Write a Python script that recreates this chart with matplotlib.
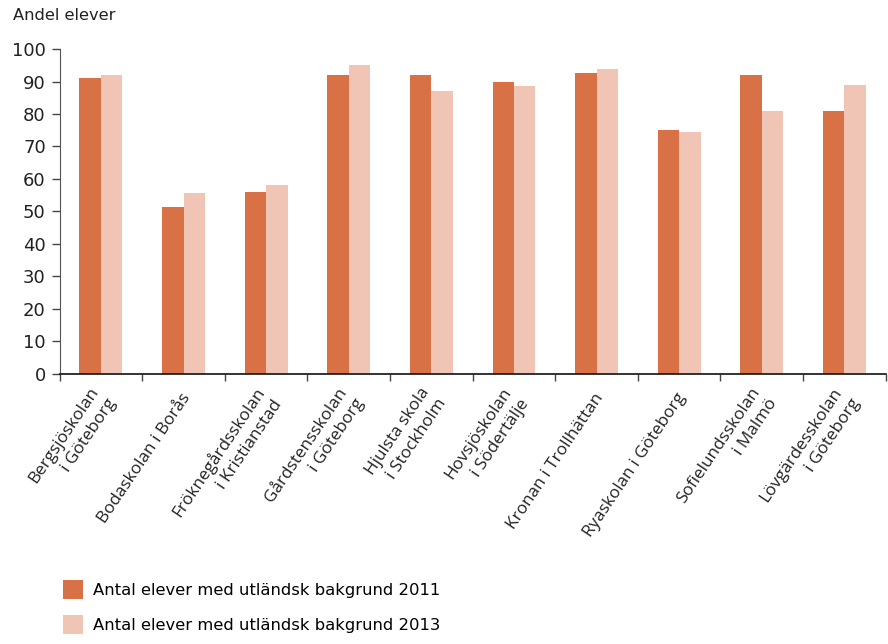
import matplotlib
matplotlib.use("Agg")
import matplotlib.pyplot as plt
from matplotlib.patches import Patch
import numpy as np

# Share of pupils with foreign background per school
schools = [
    "Bergsjöskolan\ni Göteborg",
    "Bodaskolan i Borås",
    "Fröknegårdsskolan\ni Kristianstad",
    "Gårdstensskolan\ni Göteborg",
    "Hjulsta skola\ni Stockholm",
    "Hovsjöskolan\ni Södertälje",
    "Kronan i Trollhättan",
    "Ryaskolan i Göteborg",
    "Sofielundsskolan\ni Malmö",
    "Lövgärdesskolan\ni Göteborg",
]
share_2011 = [91, 51.5, 56, 92, 92, 90, 92.5, 75.2, 92, 81]
share_2013 = [92, 55.8, 58, 95.2, 87, 88.7, 93.7, 74.6, 81, 89]

label_2011 = "Antal elever med utländsk bakgrund 2011"
label_2013 = "Antal elever med utländsk bakgrund 2013"

dark = "#d87146"
light = "#f0c5b5"

fig = plt.figure(figsize=(8.88, 6.44), dpi=100)
ax = fig.add_axes([0.0672, 0.4193, 0.9302, 0.5046])

x = np.arange(len(schools))
w = 0.26
ax.bar(x - w / 2, share_2011, width=w, color=dark, linewidth=0)
ax.bar(x + w / 2, share_2013, width=w, color=light, linewidth=0)

ax.set_xlim(-0.5, len(schools) - 0.5)
ax.set_ylim(0, 100)
ax.set_yticks(range(0, 101, 10))
ax.tick_params(axis="y", labelsize=13, length=6, width=1, color="#444444",
               pad=4, labelcolor="#222222")
for t in ax.get_yticklabels():
    t.set_family("DejaVu Sans")

# ticks between groups, labels centred under each group
ax.set_xticks(np.arange(len(schools) + 1) - 0.5, minor=False)
ax.set_xticklabels([])
ax.set_xticks(x + 0.04, minor=True)
ax.set_xticklabels(schools, minor=True, rotation=56, ha="right", va="center",
                   rotation_mode="anchor", family="Open Sans", fontsize=12.3,
                   multialignment="right", linespacing=1.4, color="#222222")
ax.tick_params(axis="x", which="major", length=5, width=1, color="#444444")
ax.tick_params(axis="x", which="minor", length=0, pad=15)

for side in ("top", "right"):
    ax.spines[side].set_visible(False)
ax.spines["left"].set_color("#555555")
ax.spines["bottom"].set_color("#111111")
ax.spines["bottom"].set_linewidth(1.2)

fig.text(0.0146, 0.976, "Andel elever", fontsize=11.7, family="DejaVu Sans",
         color="#222222", va="center", ha="left")

handles = [Patch(facecolor=dark, edgecolor="none"),
           Patch(facecolor=light, edgecolor="none")]
fig.legend(handles, [label_2011, label_2013], loc="upper left",
           bbox_to_anchor=(0.071, 0.1), frameon=False,
           prop={"family": "DejaVu Sans", "size": 11.8},
           handlelength=1.2, handleheight=1.45, handletextpad=0.6,
           labelspacing=0.95, borderpad=0, borderaxespad=0)

fig.savefig("out.png", dpi=100)
